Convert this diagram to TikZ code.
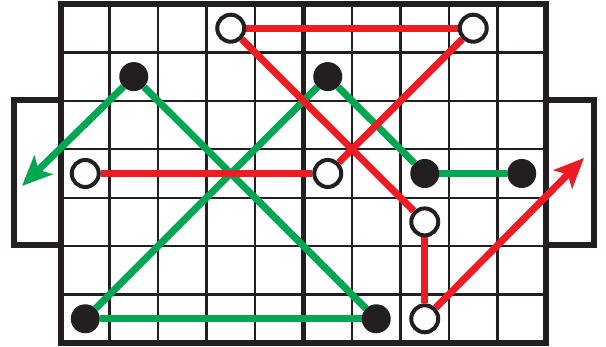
\documentclass[tikz,border=0pt]{standalone}
\usetikzlibrary{arrows.meta}
\definecolor{ink}{HTML}{231F20}
\definecolor{rd}{HTML}{ED1C24}
\definecolor{gn}{HTML}{00A651}
\pgfdeclarelayer{gridlayer}\pgfdeclarelayer{linelayer}
\pgfsetlayers{gridlayer,linelayer,main}
\begin{document}
\begin{tikzpicture}[x=1pt,y=-1pt,
 dot/.style={circle,fill=ink,inner sep=0pt,minimum size=29pt},
 ring/.style={circle,draw=ink,fill=white,line width=4pt,inner sep=0pt,minimum size=27pt},
 gline/.style={draw=gn,line width=7pt},
 rline/.style={draw=rd,line width=7pt},
 thin/.style={draw=ink,line width=2.3pt},
 thick/.style={draw=ink,line width=5.5pt},
 tip/.style={-{Stealth[length=30pt,width=26pt,inset=7pt]}}]
\useasboundingbox (0,0) rectangle (606,347);
\begin{pgfonlayer}{gridlayer}
\foreach \i in {1,...,9} \draw[thin] ({61+48.5*\i},4) -- ({61+48.5*\i},343);
\foreach \j in {1,...,6} \draw[thin] (61,{4+48.43*\j}) -- (546,{4+48.43*\j});
\draw[draw=ink,line width=5.5pt] (303.5,4) -- (303.5,343);
\draw[thick] (14,100) rectangle (61,245);
\draw[thick] (546,100) rectangle (594,245);
\draw[thick] (61,4) rectangle (546,343);
\end{pgfonlayer}
% nodes
\node[dot]  (b11) at (133.75,76.6) {};
\node[dot]  (b51) at (327.75,76.6) {};
\node[dot]  (b73) at (424.75,173.5) {};
\node[dot]  (b93) at (521.75,173.5) {};
\node[dot]  (b06) at (85.25,318.8) {};
\node[dot]  (b66) at (376.25,318.8) {};
\node[ring] (w30) at (230.75,28.2) {};
\node[ring] (w80) at (473.25,28.2) {};
\node[ring] (w03) at (85.25,173.5) {};
\node[ring] (w53) at (327.75,173.5) {};
\node[ring] (w74) at (424.75,221.9) {};
\node[ring] (w76) at (424.75,318.8) {};
\coordinate (tipL) at (22,186);
\coordinate (tipR) at (584,158);
\begin{pgfonlayer}{linelayer}
\draw[gline] (b06) -- (b51);
\draw[gline] (b06) -- (b66);
\draw[gline] (b11) -- (b66);
\draw[gline,tip] (b11) -- (tipL);
\draw[gline] (b51) -- (b73);
\draw[gline] (b73) -- (b93);
\draw[rline] (w30) -- (w80);
\draw[rline] (w80) -- (w53);
\draw[rline] (w03) -- (w53);
\draw[rline] (w30) -- (w74);
\draw[rline] (w74) -- (w76);
\draw[rline,tip] (w76) -- (tipR);
\end{pgfonlayer}
\end{tikzpicture}
\end{document}
